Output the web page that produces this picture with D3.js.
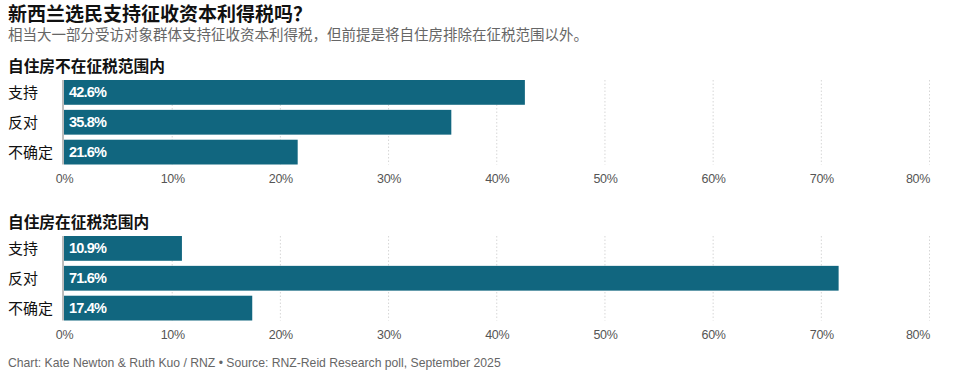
<!DOCTYPE html>
<html><head><meta charset="utf-8">
<script src="https://cdn.jsdelivr.net/npm/d3@7"></script>
<style>
body{margin:0;background:#fff;}
svg{display:block;}
</style></head>
<body><svg id="c" width="965" height="375"></svg>
<script>
const categories = ["支持", "反对", "不确定"];
const panelTitles = ["自住房不在征税范围内", "自住房在征税范围内"];
const valuesExcluded = [42.6, 35.8, 21.6];
const valuesIncluded = [10.9, 71.6, 17.4];
const tickValues = [0, 10, 20, 30, 40, 50, 60, 70, 80];
const title = "新西兰选民支持征收资本利得税吗？";
const subtitle = "相当大一部分受访对象群体支持征收资本利得税，但前提是将自住房排除在征税范围以外。";
const footer = "Chart: Kate Newton & Ruth Kuo / RNZ • Source: RNZ-Reid Research poll, September 2025";

const svg = d3.select("#c");
const cjk = "'Noto Sans CJK SC','Noto Sans',sans-serif";
const latinFirst = "'Liberation Sans','Noto Sans CJK SC',sans-serif";
const latin = "'Liberation Sans',Arial,'Noto Sans CJK SC',sans-serif";
const barColor = "#11667f";

svg.append("text").attr("x", 8).attr("y", 20.5).text(title)
  .attr("font-family", latinFirst).attr("font-weight", 700).attr("font-size", 19).attr("fill", "#111");
svg.append("text").attr("x", 8).attr("y", 39.5).text(subtitle)
  .attr("font-family", latinFirst).attr("font-size", 14.5).attr("fill", "#666");

const x = d3.scaleLinear().domain([0, 80]).range([64, 929.5]);

const panels = [
  {title: panelTitles[0], values: valuesExcluded, top: 80, titleY: 72},
  {title: panelTitles[1], values: valuesIncluded, top: 236, titleY: 228}
];

panels.forEach(p => {
  const g = svg.append("g");
  g.append("text").attr("x", 8).attr("y", p.titleY).text(p.title)
    .attr("font-family", cjk).attr("font-weight", 700).attr("font-size", 15.7).attr("fill", "#111");
  const bottom = p.top + 84.5;
  const y = d3.scaleBand().domain(categories).range([p.top, bottom]).paddingInner(0.17).paddingOuter(0);
  // gridlines
  g.selectAll(".grid").data(tickValues.filter(t => t > 0)).join("line")
    .attr("x1", d => x(d)).attr("x2", d => x(d))
    .attr("y1", p.top).attr("y2", bottom)
    .attr("stroke", "#d6d6d6").attr("stroke-width", 1).attr("stroke-dasharray", "1.5,2");
  // bars
  g.selectAll(".bar").data(p.values).join("rect")
    .attr("x", x(0)).attr("y", (d, i) => y(categories[i]))
    .attr("width", d => x(d) - x(0)).attr("height", y.bandwidth())
    .attr("fill", barColor);
  // baseline
  g.append("line").attr("x1", x(0) - 1).attr("x2", x(0) - 1)
    .attr("y1", p.top).attr("y2", bottom)
    .attr("stroke", "#bdbdbd").attr("stroke-width", 2);
  // category labels
  g.selectAll(".cat").data(categories).join("text")
    .attr("x", 8).attr("y", d => y(d) + y.bandwidth() / 2 + 5.5)
    .text(d => d).attr("font-family", cjk).attr("font-size", 15).attr("fill", "#111");
  // value labels
  g.selectAll(".val").data(p.values).join("text")
    .attr("x", x(0) + 5).attr("y", (d, i) => y(categories[i]) + y.bandwidth() / 2 + 5)
    .text(d => d.toFixed(1) + "%")
    .attr("font-family", latin).attr("font-weight", 700).attr("font-size", 14.5)
    .attr("letter-spacing", "-0.8").attr("fill", "#fff");
  // axis
  const axis = d3.axisBottom(x).tickValues(tickValues).tickFormat(d => d + "%").tickSize(0).tickPadding(0);
  const ax = g.append("g").attr("transform", `translate(0,${bottom + 18.5})`).call(axis);
  ax.select(".domain").remove();
  ax.selectAll("text").attr("font-family", latin).attr("font-size", 12.5).attr("fill", "#555")
    .attr("dy", 0).attr("letter-spacing", "-0.3")
    .attr("text-anchor", d => d === 80 ? "end" : "middle");
});

svg.append("text").attr("x", 8).attr("y", 367).text(footer)
  .attr("font-family", latin).attr("font-size", 12.2).attr("fill", "#666");
</script></body></html>
